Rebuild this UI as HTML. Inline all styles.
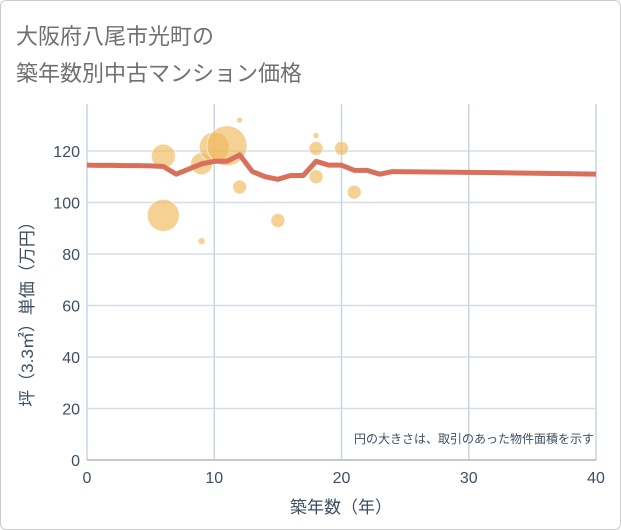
<!DOCTYPE html>
<html><head><meta charset="utf-8"><style>
body{margin:0;background:#fff;}
#wrap{position:relative;width:619px;height:528px;border:1px solid #ccc;border-radius:6px;overflow:hidden;background:#fff;}
.t{position:absolute;left:15px;font:22px "Liberation Sans","Noto Sans CJK JP",sans-serif;color:#707070;white-space:nowrap;}
svg text{font-family:"Liberation Sans","Noto Sans CJK JP",sans-serif;}
</style></head><body>
<div id="wrap">
<div class="t" style="top:18px">大阪府八尾市光町の</div>
<div class="t" style="top:55px">築年数別中古マンション価格</div>
<svg id="c" width="621" height="530" style="position:absolute;left:-1px;top:-1px"></svg>
</div>
<script>
const xTicks=[0,10,20,30,40];
const yTicks=[0,20,40,60,80,100,120];
const bubbleYears=[6,6,9,9,10,11,12,12,15,18,18,18,20,21];
const bubblePrices=[118,95,115,85,121.5,122,132,106,93,126,121,110,121,104];
const bubbleSizes=[12,16,11,3.5,15,20,3,7,7,3,7,7,7,7];
const lineYears=[0,1,2,3,4,5,6,7,8,9,10,11,12,13,14,15,16,17,18,19,20,21,22,23,24,28,32,36,40];
const linePrices=[114.5,114.4,114.4,114.3,114.3,114.2,114,111,113,115,116,116,118.5,112,110,109,110.5,110.5,116,114.5,114.5,112.5,112.5,111,112,111.8,111.6,111.3,111];
const svg=document.getElementById('c');const NS='http://www.w3.org/2000/svg';
const X=v=>87+v*(596-87)/40, Y=v=>460-v*(460-151)/120;
function mk(t,a){const e=document.createElementNS(NS,t);for(const k in a)e.setAttribute(k,a[k]);svg.appendChild(e);return e;}
yTicks.forEach(v=>{const l=mk('line',{x1:87,x2:596,y1:Y(v),y2:Y(v),stroke:'#d5dde6','stroke-width':1.5});


const t=mk('text',{x:80,y:Y(v)+6,'text-anchor':'end','font-size':16,fill:'#3d4f62'});t.textContent=v;

});
xTicks.forEach(v=>{const l=mk('line',{x1:X(v),x2:X(v),y1:104,y2:460,stroke:'#c8d6e3','stroke-width':1.5});


const t=mk('text',{x:X(v),y:483,'text-anchor':'middle','font-size':16,fill:'#3d4f62'});t.textContent=v;

});
const ax=mk('line',{x1:87,x2:596,y1:460,y2:460,stroke:'#bbb','stroke-width':1.5});


bubbleYears.forEach((yr,i)=>{const c=mk('circle',{cx:X(yr),cy:Y(bubblePrices[i]),r:bubbleSizes[i],fill:'rgba(240,185,90,0.65)',stroke:'rgba(255,255,255,0.6)','stroke-width':1});

});
const p=mk('polyline',{points:lineYears.map((yr,i)=>X(yr)+','+Y(linePrices[i])).join(' '),fill:'none',stroke:'#d9705c','stroke-width':5,'stroke-linejoin':'round'});


const n=mk('text',{x:594,y:443,'text-anchor':'end','font-size':12,fill:'#3d4f62'});n.textContent='円の大きさは、取引のあった物件面積を示す';


const xt=mk('text',{x:341,y:513,'text-anchor':'middle','font-size':17,fill:'#3d4f62'});xt.textContent='築年数（年）';


const yt=mk('text',{x:0,y:0,'text-anchor':'middle','font-size':17,fill:'#3d4f62',transform:'translate(33,310) rotate(-90)'});yt.textContent='坪（3.3㎡）単価（万円）';


</script>
</body></html>
